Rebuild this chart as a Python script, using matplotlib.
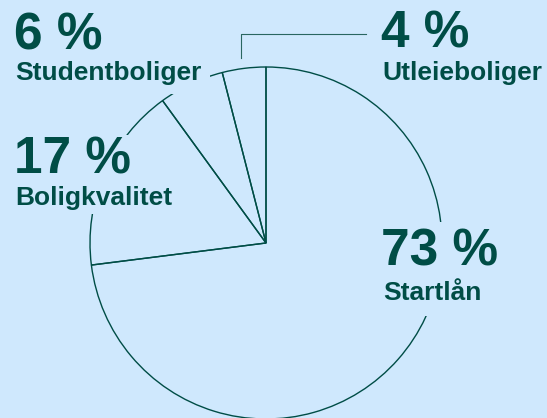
import matplotlib
matplotlib.use("Agg")
import matplotlib.pyplot as plt

# ---- data ----
categories = ["Utleieboliger", "Studentboliger", "Boligkvalitet", "Startlån"]
shares = [4, 6, 17, 73]
pct_labels = ["4 %", "6 %", "17 %", "73 %"]

BG = "#cfe8fd"
INK = "#004d46"
W, H = 547, 418

plt.rcParams["font.family"] = ["Liberation Sans", "DejaVu Sans"]

fig = plt.figure(figsize=(W / 100, H / 100), dpi=100, facecolor=BG)
ax = fig.add_axes([0, 0, 1, 1])
ax.set_facecolor(BG)

def py(y):  # pixel row -> data y (y up)
    return H - y

cx, cy, R = 266, py(243), 176
ax.pie(shares, startangle=90, counterclock=True, center=(cx, cy), radius=R,
       wedgeprops=dict(fill=False, edgecolor=INK, linewidth=1.0), frame=True)

ax.set_xlim(0, W)
ax.set_ylim(0, H)
ax.set_aspect("equal")
ax.axis("off")

# leader line for the small 4 % slice
ax.plot([241, 241, 366], [py(58), py(34), py(34)], color="#2a6660", lw=0.8, zorder=1)

def label(x, y, s, size, pad):
    ax.text(x, py(y), s, fontsize=size, fontweight="bold", color=INK,
            ha="left", va="baseline", zorder=5,
            bbox=dict(boxstyle=f"square,pad={pad}", fc=BG, ec="none"))

# (x, baseline y, pad) for percentage and name, per category
pct_pos = {"Utleieboliger": (381, 47, 0.1), "Studentboliger": (14, 50, 0.1),
           "Boligkvalitet": (14, 174, 0.02), "Startlån": (381, 265, 0.1)}
name_pos = {"Utleieboliger": (382, 80, 0.2), "Studentboliger": (15, 80, 0.33),
            "Boligkvalitet": (15, 205, 0.17), "Startlån": (383, 300, 0.4)}

for cat, pct in zip(categories, pct_labels):
    x, y, p = pct_pos[cat]
    label(x, y, pct, 37, p)
    x, y, p = name_pos[cat]
    label(x, y, cat, 19, p)

fig.savefig("out.png", dpi=100, facecolor=BG)
